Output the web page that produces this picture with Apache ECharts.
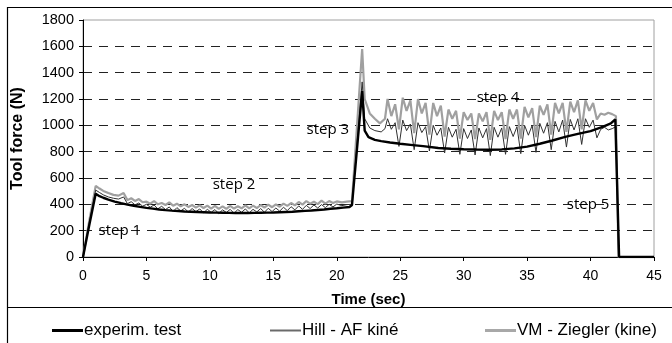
<!DOCTYPE html>
<html>
<head>
<meta charset="utf-8">
<script src="https://cdn.jsdelivr.net/npm/echarts@6/dist/echarts.min.js"></script>
<style>
  html, body { margin: 0; padding: 0; background: #fff; }
  #chart { width: 672px; height: 343px; }
</style>
</head>
<body>
<div id="chart"></div>
<script>
// x: time (sec), y: tool force (N)
const expTest = [
  [0, 0], [0.5, 245], [1.0, 480], [1.3, 462], [1.6, 450], [2.0, 436], [2.5, 421], [3.0, 409], [3.5, 398],
  [4.0, 389], [4.5, 381], [5.0, 373], [5.5, 367], [6.0, 361], [6.5, 356], [7.0, 352], [7.5, 349], [8.0, 346],
  [8.5, 344], [9.0, 342], [9.5, 340], [10.0, 338], [10.5, 337], [11.0, 336], [11.5, 335], [12.0, 334],
  [12.5, 334], [13.0, 334], [13.5, 335], [14.0, 336], [14.5, 337], [15.0, 338], [15.5, 340], [16.0, 342],
  [16.5, 344], [17.0, 347], [17.5, 350], [18.0, 353], [18.5, 357], [19.0, 361], [19.5, 366], [20.0, 370],
  [20.5, 375], [21.0, 380], [21.2, 395], [22.0, 1260], [22.2, 960], [22.5, 910], [23.0, 890], [23.5, 880],
  [24.2, 870], [25.0, 860], [26.0, 850], [26.8, 842], [28.0, 828], [29.0, 822], [30.0, 818], [31.0, 816],
  [32.0, 815], [33.0, 817], [34.0, 825], [35.0, 838], [36.0, 860], [37.0, 885], [38.0, 912], [39.0, 935],
  [40.0, 956], [41.0, 990], [41.6, 1015], [41.95, 1046], [42.25, 0], [45, 0]
];

const hillAF = [
  [0, 0], [0.5, 262], [1.0, 508], [1.3, 490], [1.6, 472], [2.0, 456], [2.4, 446], [2.8, 440], [3.2, 456],
  [3.5, 405], [3.8, 420], [4.1, 396], [4.4, 410], [4.7, 386], [5.0, 400], [5.3, 378], [5.6, 395], [5.9, 366],
  [6.2, 385], [6.5, 360], [6.8, 380], [7.1, 346], [7.4, 375], [7.7, 350], [8.0, 370], [8.3, 341], [8.6, 368],
  [8.9, 345], [9.2, 365], [9.5, 336], [9.8, 362], [10.1, 340], [10.4, 360], [10.7, 330], [11.0, 358],
  [11.3, 338], [11.6, 362], [11.9, 332], [12.2, 360], [12.5, 340], [12.8, 365], [13.1, 335], [13.4, 362],
  [13.7, 342], [14.0, 368], [14.3, 340], [14.6, 370], [14.9, 345], [15.2, 372], [15.5, 348], [15.8, 378],
  [16.1, 352], [16.4, 382], [16.7, 358], [17.0, 388], [17.3, 362], [17.6, 392], [17.9, 368], [18.2, 395],
  [18.5, 372], [18.8, 398], [19.1, 375], [19.4, 400], [19.7, 380], [20.0, 402], [20.4, 390], [20.8, 398],
  [21.2, 400], [22.0, 1330], [22.2, 1050], [22.6, 980], [23.0, 960], [23.5, 950], [23.8, 975],
  [24.0, 1050], [24.3, 970], [24.6, 1020], [24.9, 840],
  [25.2, 1040], [25.5, 960], [25.8, 1010], [26.1, 815],
  [26.4, 1020], [26.7, 945], [27.0, 990], [27.3, 805],
  [27.6, 1000], [27.9, 925], [28.2, 980], [28.5, 790],
  [28.8, 985], [29.1, 910], [29.4, 970], [29.7, 780],
  [30.0, 975], [30.3, 900], [30.6, 965], [30.9, 775],
  [31.2, 980], [31.5, 905], [31.8, 975], [32.1, 770],
  [32.4, 985], [32.7, 910], [33.0, 980], [33.3, 780],
  [33.6, 990], [33.9, 915], [34.2, 990], [34.5, 785],
  [34.8, 1000], [35.1, 925], [35.4, 1000], [35.7, 795],
  [36.0, 1015], [36.3, 940], [36.6, 1020], [36.9, 815],
  [37.2, 1030], [37.5, 950], [37.8, 1040], [38.1, 835],
  [38.4, 1045], [38.7, 965], [39.0, 1050], [39.3, 855],
  [39.6, 1050], [39.9, 985], [40.2, 1040], [40.5, 905],
  [40.8, 970], [41.1, 985], [41.4, 965], [41.7, 975], [42.0, 990], [42.2, 0], [45, 0]
];

const vmZiegler = [
  [0, 0], [0.5, 280], [1.0, 540], [1.3, 520], [1.6, 502], [2.0, 486], [2.4, 472], [2.8, 466], [3.2, 486],
  [3.5, 432], [3.8, 446], [4.1, 426], [4.4, 440], [4.7, 416], [5.0, 420], [5.3, 405], [5.6, 425], [5.9, 400],
  [6.2, 410], [6.5, 395], [6.8, 415], [7.1, 390], [7.4, 405], [7.7, 385], [8.0, 400], [8.3, 380], [8.6, 395],
  [8.9, 375], [9.2, 392], [9.5, 372], [9.8, 390], [10.1, 368], [10.4, 388], [10.7, 365], [11.0, 385],
  [11.3, 365], [11.6, 388], [11.9, 368], [12.2, 385], [12.5, 370], [12.8, 392], [13.1, 370], [13.4, 390],
  [13.7, 372], [14.0, 395], [14.3, 375], [14.6, 398], [14.9, 378], [15.2, 400], [15.5, 382], [15.8, 405],
  [16.1, 388], [16.4, 410], [16.7, 392], [17.0, 418], [17.3, 398], [17.6, 425], [17.9, 405], [18.2, 420],
  [18.5, 402], [18.8, 428], [19.1, 405], [19.4, 425], [19.7, 410], [20.0, 422], [20.4, 415], [20.8, 420],
  [21.2, 425], [22.0, 1580], [22.2, 1200], [22.6, 1090], [23.0, 1050], [23.4, 1015], [23.8, 1050],
  [24.0, 1200], [24.3, 1070], [24.6, 1160], [24.9, 970],
  [25.2, 1210], [25.5, 1110], [25.8, 1190], [26.1, 940],
  [26.4, 1200], [26.7, 1090], [27.0, 1170], [27.3, 930],
  [27.6, 1170], [27.9, 1070], [28.2, 1150], [28.5, 915],
  [28.8, 1120], [29.1, 1050], [29.4, 1110], [29.7, 900],
  [30.0, 1100], [30.3, 1040], [30.6, 1090], [30.9, 895],
  [31.2, 1090], [31.5, 1030], [31.8, 1100], [32.1, 890],
  [32.4, 1110], [32.7, 1040], [33.0, 1100], [33.3, 895],
  [33.6, 1120], [33.9, 1050], [34.2, 1120], [34.5, 900],
  [34.8, 1140], [35.1, 1060], [35.4, 1130], [35.7, 910],
  [36.0, 1150], [36.3, 1080], [36.6, 1160], [36.9, 930],
  [37.2, 1170], [37.5, 1090], [37.8, 1170], [38.1, 950],
  [38.4, 1180], [38.7, 1100], [39.0, 1190], [39.3, 970],
  [39.6, 1190], [39.9, 1110], [40.2, 1170], [40.5, 1045],
  [40.8, 1090], [41.1, 1080], [41.4, 1095], [41.7, 1085], [42.0, 1070], [42.2, 0], [45, 0]
];

const seriesNames = ['experim. test', 'Hill - AF kiné', 'VM - Ziegler (kine)'];
const stepLabels = [
  [2.9, 197, 'step 1'],
  [11.9, 547, 'step 2'],
  [19.3, 970, 'step 3'],
  [32.7, 1208, 'step 4'],
  [39.8, 395, 'step 5']
];
const xTicks = [0, 5, 10, 15, 20, 25, 30, 35, 40, 45];
const yTicks = [0, 200, 400, 600, 800, 1000, 1200, 1400, 1600, 1800];

const chart = echarts.init(document.getElementById('chart'), null, { renderer: 'canvas' });
const font = '"Liberation Sans", Arial, sans-serif';

// last split line (1800) is drawn solid grey as part of the plot frame
const splitColors = yTicks.map((v, i) => (i === yTicks.length - 1 ? 'rgba(0,0,0,0)' : '#222'));

const legendAt = (name, left, color, height) => ({
  data: [name],
  left: left,
  top: 317,
  icon: 'rect',
  itemWidth: 31,
  itemHeight: height,
  itemStyle: { color: color },
  textStyle: { fontFamily: font, fontSize: 17, color: '#000', padding: [0, 0, 0, -4] },
  selectedMode: false
});

chart.setOption({
  animation: false,
  backgroundColor: '#fff',
  grid: { left: 83, right: 18, top: 20, bottom: 86, show: true, borderColor: '#a0a0a0', borderWidth: 1 },
  xAxis: {
    type: 'value',
    min: 0,
    max: 45,
    interval: 5,
    name: 'Time (sec)',
    nameLocation: 'middle',
    nameGap: 35,
    nameTextStyle: { fontFamily: font, fontSize: 15, fontWeight: 'bold', color: '#000' },
    axisLine: { lineStyle: { color: '#000', width: 1 } },
    axisTick: { length: 4, lineStyle: { color: '#000' } },
    axisLabel: { fontFamily: font, fontSize: 14, color: '#000', margin: 12, formatter: (v) => String(v) },
    splitLine: { show: false }
  },
  yAxis: {
    type: 'value',
    min: 0,
    max: 1800,
    interval: 200,
    name: 'Tool force (N)',
    nameLocation: 'middle',
    nameGap: 57,
    nameTextStyle: { fontFamily: font, fontSize: 16, fontWeight: 'bold', color: '#000' },
    axisLine: { show: true, lineStyle: { color: '#000', width: 1 } },
    axisTick: { show: true, length: 4, lineStyle: { color: '#000' } },
    axisLabel: { fontFamily: font, fontSize: 14.5, color: '#000', margin: 9, formatter: (v) => String(v) },
    splitLine: { show: true, lineStyle: { color: splitColors, type: [9, 7], width: 1 } }
  },
  legend: [
    legendAt(seriesNames[0], 47, '#000', 3),
    legendAt(seriesNames[1], 265, '#6a6a6a', 2),
    legendAt(seriesNames[2], 480, '#a8a8a8', 3)
  ],
  graphic: [
    { type: 'rect', shape: { x: 7.5, y: 7.5, width: 700, height: 360 }, style: { fill: 'none', stroke: '#000', lineWidth: 1.2 }, silent: true },
    { type: 'line', shape: { x1: 7, y1: 307.5, x2: 672, y2: 307.5 }, style: { stroke: '#000', lineWidth: 1.2 }, silent: true }
  ],
  series: [
    {
      name: seriesNames[2],
      type: 'line',
      data: vmZiegler,
      symbol: 'none',
      lineStyle: { color: '#a0a0a0', width: 2.2 },
      itemStyle: { color: '#a0a0a0' },
      z: 2
    },
    {
      name: seriesNames[1],
      type: 'line',
      data: hillAF,
      symbol: 'none',
      lineStyle: { color: '#303030', width: 1 },
      itemStyle: { color: '#303030' },
      z: 3
    },
    {
      name: seriesNames[0],
      type: 'line',
      data: expTest,
      symbol: 'none',
      lineStyle: { color: '#000', width: 2.4 },
      itemStyle: { color: '#000' },
      z: 4
    },
    {
      name: 'steps',
      type: 'scatter',
      data: stepLabels,
      symbolSize: 1,
      itemStyle: { color: 'rgba(0,0,0,0)', opacity: 1 },
      label: {
        show: true,
        position: 'inside',
        formatter: (p) => p.data[2],
        fontFamily: '"Open Sans", "Noto Sans", sans-serif',
        fontSize: 15,
        color: '#000',
        textBorderWidth: 0,
        opacity: 1
      },
      z: 5
    }
  ]
});
</script>
</body>
</html>
